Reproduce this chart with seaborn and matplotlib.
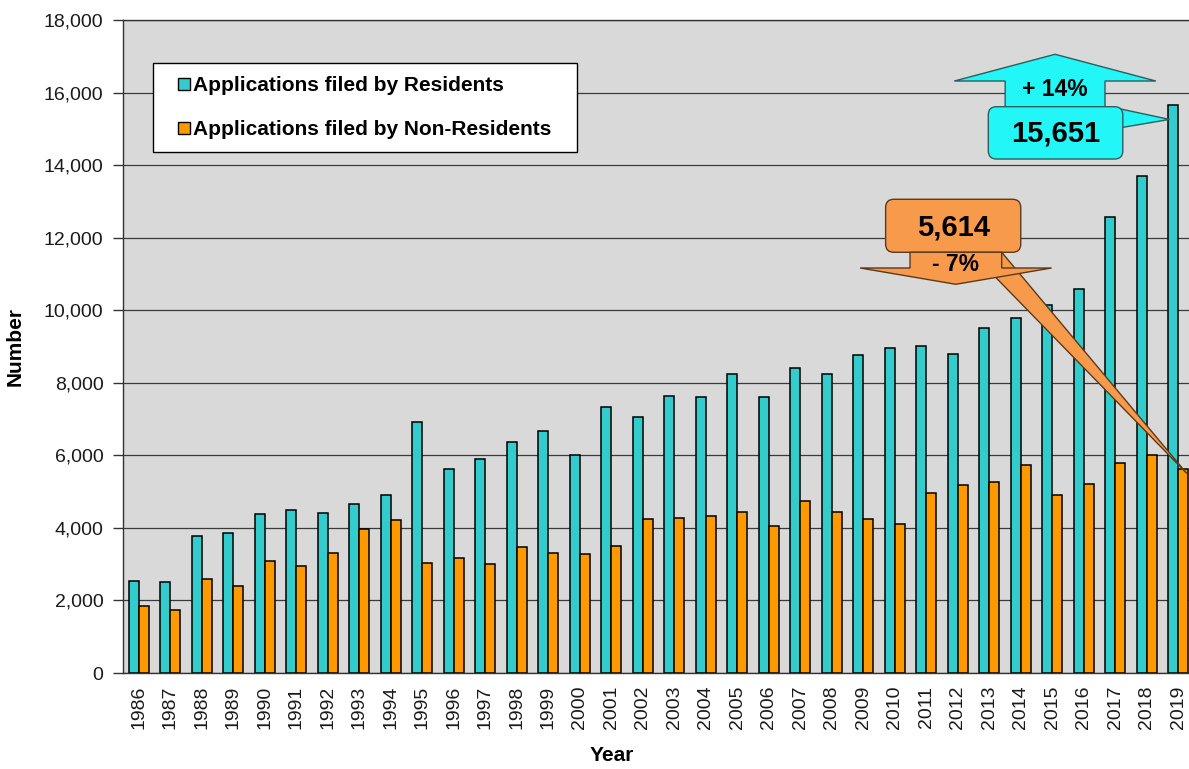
import matplotlib
matplotlib.use("Agg")
import matplotlib.pyplot as plt
import matplotlib.patches as mpatches
from matplotlib.legend_handler import HandlerPatch
from matplotlib.ticker import FuncFormatter, MultipleLocator
import pandas as pd
import seaborn as sns

years = list(range(1986, 2020))
residents = [2530, 2500, 3790, 3870, 4385, 4495, 4410, 4670, 4920, 6920,
             5630, 5900, 6370, 6680, 6010, 7330, 7050, 7640, 7600, 8240,
             7600, 8420, 8240, 8755, 8945, 9010, 8790, 9500, 9780, 10150,
             10590, 12580, 13690, 15651]
non_residents = [1850, 1725, 2590, 2390, 3075, 2950, 3320, 3975, 4210, 3035,
                 3175, 3000, 3480, 3320, 3275, 3500, 4255, 4285, 4320, 4440,
                 4055, 4740, 4440, 4255, 4100, 4970, 5170, 5270, 5740, 4915,
                 5220, 5790, 6010, 5614]
series_names = ["Applications filed by Residents", "Applications filed by Non-Residents"]
res_change = "+ 14%"
nonres_change = "- 7%"

teal = "#33cccc"
orange = "#ff9900"
callout_cyan = "#22f6f6"
callout_orange = "#f89a4c"

df = pd.DataFrame({
    "Year": [str(y) for y in years] * 2,
    "Value": residents + non_residents,
    "Series": [series_names[0]] * len(years) + [series_names[1]] * len(years),
})

sns.set_style("white")
plt.rcParams["font.family"] = ["Liberation Sans", "DejaVu Sans"]
plt.rcParams["text.color"] = "black"

fig = plt.figure(figsize=(11.89, 7.69), dpi=100)
ax = fig.add_axes([123 / 1189, 96 / 769, 1071 / 1189, 653 / 769])
ax.set_facecolor("#d9d9d9")

bar_w = 0.635
sns.barplot(data=df, x="Year", y="Value", hue="Series", hue_order=series_names,
            palette=[teal, orange], width=bar_w, saturation=1, edgecolor="black",
            linewidth=1.1, legend=False, ax=ax)

n = len(years)
ax.set_xlim(-0.5, n - 0.5)
ax.set_ylim(0, 18000)
ax.yaxis.set_major_locator(MultipleLocator(2000))
ax.yaxis.set_major_formatter(FuncFormatter(lambda v, p: f"{int(v):,}"))
ax.set_axisbelow(True)
ax.yaxis.grid(True, color="#3a3a3a", lw=0.9)
ax.xaxis.grid(False)

ax.set_xticks(range(n))
ax.set_xticklabels([str(y) for y in years], rotation=90)
ax.set_xticks([i - 0.5 for i in range(n + 1)], minor=True)
ax.tick_params(axis="x", which="major", length=0, pad=9, labelsize=14, labelcolor="#1a1a1a")
ax.tick_params(axis="x", which="minor", length=6, width=1, direction="out", color="#333333")
ax.tick_params(axis="y", length=7, width=1, direction="out", color="#333333",
               labelsize=14, labelcolor="#1a1a1a", pad=7, left=True)

for side in ["left", "bottom", "top"]:
    ax.spines[side].set_color("#333333")
    ax.spines[side].set_linewidth(1)
ax.spines["right"].set_visible(False)

ax.set_xlabel("Year", fontsize=15, fontweight="bold", color="black")
ax.set_ylabel("Number", fontsize=15, fontweight="bold", color="black")
ax.xaxis.set_label_coords(0.4566, -0.112)
ax.yaxis.set_label_coords(-0.0915, 0.5)


def square_handle(legend, orig_handle, xdescent, ydescent, width, height, fontsize):
    s = 0.58 * fontsize
    return mpatches.Rectangle((-xdescent + width - s, -ydescent + (height - s) / 2), s, s)


handles = [mpatches.Patch(facecolor=teal, edgecolor="black", lw=1),
           mpatches.Patch(facecolor=orange, edgecolor="black", lw=1)]
leg = ax.legend(handles, series_names, loc="upper left",
                bbox_to_anchor=(0.028, 0.9342 - 0.1332, 0.3959, 0.1332), mode="expand",
                borderaxespad=0, fancybox=False, framealpha=1, edgecolor="black",
                prop={"size": 15, "weight": "bold"}, borderpad=0.62, labelspacing=1.2,
                handlelength=1.16, handletextpad=0.15,
                handler_map={mpatches.Patch: HandlerPatch(patch_func=square_handle)})
leg.get_frame().set_linewidth(1)

# callouts (data units: x in categories, y in counts)
asp = 27.565 * 31.5  # y data units per x data unit at equal pixel size

# residents: wedge pointer, up arrow, rounded box
tip_res = (n - 1 - bar_w / 2 + 0.04, residents[-1] * 0.975)
ax.add_patch(mpatches.Polygon([(31.1, 15560), (31.1, 15020), tip_res], closed=True,
                              fc=callout_cyan, ec="#2b5f5f", lw=1, zorder=5))
ax.add_patch(mpatches.FancyArrow(29.09, 15610, 0, 17055 - 15610, width=3.17,
                                 head_width=6.4, head_length=737, length_includes_head=True,
                                 fc=callout_cyan, ec="#2b5f5f", lw=1, zorder=6))
ax.add_patch(mpatches.FancyBboxPatch((26.97, 14168), 4.27, 1442,
                                     boxstyle="round,pad=0,rounding_size=0.26",
                                     mutation_aspect=asp, fc=callout_cyan, ec="#2b5f5f",
                                     lw=1, zorder=7))
ax.text(29.09, 16090, res_change, ha="center", va="center", fontsize=16.5,
        fontweight="bold", color="black", zorder=8)
ax.text(29.1, 14860, f"{residents[-1]:,}", ha="center", va="center", fontsize=21,
        fontweight="bold", color="black", zorder=8)

# non-residents: wedge pointer, rounded box, down arrow
tip_non = (n - 1 + bar_w / 2 * 0.85, non_residents[-1] * 0.98)
ax.add_patch(mpatches.Polygon([(26.2, 11800), (27.2, 11800), tip_non], closed=True,
                              fc=callout_orange, ec="#5a3a1a", lw=1, zorder=5))
ax.add_patch(mpatches.FancyBboxPatch((23.71, 11597), 4.29, 1461,
                                     boxstyle="round,pad=0,rounding_size=0.26",
                                     mutation_aspect=asp, fc=callout_orange, ec="#5a3a1a",
                                     lw=1, zorder=6))
ax.add_patch(mpatches.FancyArrow(25.94, 11597, 0, 10715 - 11597, width=2.91,
                                 head_width=6.08, head_length=449, length_includes_head=True,
                                 fc=callout_orange, ec="#5a3a1a", lw=1, zorder=7))
ax.text(25.86, 12290, f"{non_residents[-1]:,}", ha="center", va="center", fontsize=21,
        fontweight="bold", color="black", zorder=8)
ax.text(25.94, 11250, nonres_change, ha="center", va="center", fontsize=16.5,
        fontweight="bold", color="black", zorder=8)

fig.savefig("out.png", dpi=100, facecolor="white")
